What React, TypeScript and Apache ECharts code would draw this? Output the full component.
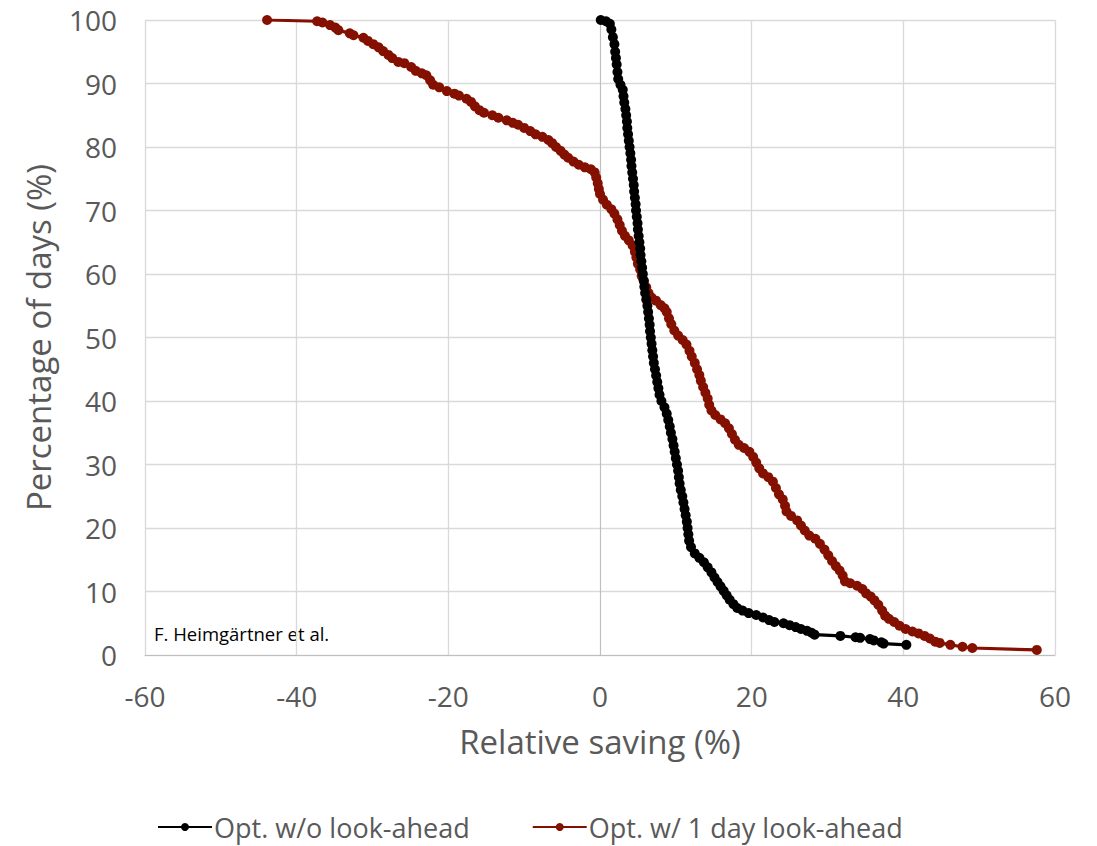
import React, { useEffect, useRef } from "react";
import * as echarts from "echarts";

const xTicks = [-60, -40, -20, 0, 20, 40, 60];
const yTicks = [0, 10, 20, 30, 40, 50, 60, 70, 80, 90, 100];

const seriesNames = ["Opt. w/o look-ahead", "Opt. w/ 1 day look-ahead"];
const seriesColors = ["#000000", "#841000"];

const noLookAhead: [number, number][] = [
  [0.1, 100], [0.8, 99.8], [1.3, 99.4], [1.5, 98.5], [1.7, 97.3], [1.9, 96.2], [2.0, 95], [2.1, 94], [2.2, 93],
  [2.3, 91.8], [2.4, 90.7], [2.7, 89.8], [3.0, 89], [3.1, 88], [3.2, 87], [3.35, 86], [3.45, 85], [3.55, 84],
  [3.6, 83], [3.7, 82], [3.8, 81], [3.9, 80], [4.0, 79], [4.1, 78], [4.15, 77], [4.25, 76], [4.35, 75], [4.45, 74],
  [4.5, 73], [4.6, 72], [4.7, 71], [4.75, 70], [4.85, 69], [4.95, 68], [5.0, 67], [5.1, 66], [5.2, 65], [5.3, 64],
  [5.35, 63], [5.45, 62], [5.55, 61], [5.65, 60], [5.75, 59], [5.85, 58], [5.95, 57], [6.1, 56], [6.25, 55],
  [6.35, 54], [6.45, 53], [6.55, 52], [6.6, 51], [6.7, 50], [6.8, 49], [6.9, 48], [7.0, 47], [7.1, 46], [7.25, 45],
  [7.4, 44], [7.55, 43], [7.7, 42], [7.85, 41], [8.1, 40], [8.5, 39], [8.8, 38], [9.0, 37], [9.2, 36], [9.35, 35],
  [9.55, 34], [9.7, 33], [9.85, 32], [10.0, 31], [10.15, 30], [10.3, 29], [10.4, 28], [10.5, 27], [10.65, 26],
  [10.85, 25], [11.0, 24], [11.15, 23], [11.3, 22], [11.45, 21], [11.55, 20], [11.65, 19], [11.75, 18], [12.0, 17],
  [12.5, 16], [13.1, 15.3], [13.7, 14.6], [14.2, 13.8], [14.7, 13], [15.1, 12.2], [15.5, 11.5], [15.9, 10.8],
  [16.3, 10.1], [16.7, 9.4], [17.1, 8.7], [17.6, 8], [18.1, 7.4], [18.8, 7], [19.6, 6.6], [20.6, 6.3], [21.5, 5.9],
  [22.3, 5.5], [23.0, 5.2], [24.2, 5.0], [25.0, 4.7], [25.8, 4.4], [26.5, 4.1], [27.3, 3.8], [27.9, 3.5], [28.3, 3.2],
  [31.7, 3.0], [33.7, 2.8], [34.3, 2.7], [35.6, 2.5], [36.1, 2.3], [37.1, 2.0], [37.4, 1.8], [40.4, 1.6],
];

const oneDayLookAhead: [number, number][] = [
  [-43.9, 100], [-37.3, 99.8], [-36.6, 99.6], [-35.6, 99.2], [-34.9, 98.8], [-34.5, 98.4], [-33.0, 97.9],
  [-32.5, 97.6], [-31.2, 97.2], [-30.6, 96.7], [-29.9, 96.2], [-29.2, 95.7], [-28.6, 95.1], [-27.9, 94.5],
  [-27.4, 94], [-26.6, 93.4], [-25.8, 93.2], [-24.9, 92.6], [-24.3, 92.0], [-23.5, 91.6], [-22.9, 91.3],
  [-22.4, 90.5], [-22.0, 89.8], [-21.2, 89.4], [-20.2, 88.8], [-19.2, 88.4], [-18.6, 88.1], [-17.6, 87.6],
  [-17.0, 87.1], [-16.5, 86.4], [-15.9, 85.8], [-15.3, 85.4], [-14.2, 85.0], [-13.4, 84.6], [-12.3, 84.2],
  [-11.5, 83.8], [-10.8, 83.5], [-10.0, 83.0], [-9.2, 82.5], [-8.5, 82.0], [-7.6, 81.6], [-6.8, 81.1],
  [-6.3, 80.6], [-5.8, 80.0], [-5.2, 79.4], [-4.7, 78.8], [-4.2, 78.3], [-3.5, 77.7], [-2.8, 77.2], [-2.0, 76.8],
  [-1.2, 76.5], [-0.7, 76.0], [-0.5, 75.2], [-0.3, 74.3], [-0.15, 73.4], [0.0, 72.6], [0.4, 71.7], [0.9, 70.9],
  [1.5, 70.2], [1.9, 69.5], [2.3, 68.6], [2.6, 67.7], [2.9, 66.8], [3.3, 66.0], [3.8, 65.3], [4.3, 64.5],
  [4.6, 63.5], [4.8, 62.6], [5.0, 61.6], [5.3, 60.7], [5.5, 59.7], [5.8, 58.8], [6.1, 57.9], [6.4, 57.0],
  [6.8, 56.3], [7.4, 55.8], [8.0, 55.1], [8.5, 54.6], [8.8, 54.0], [9.1, 53.0], [9.4, 52.1], [9.8, 51.1],
  [10.3, 50.3], [10.9, 49.6], [11.4, 48.9], [11.8, 47.9], [12.1, 47.0], [12.5, 46.0], [12.8, 45.0], [13.1, 44.1],
  [13.3, 43.2], [13.6, 42.2], [13.9, 41.3], [14.2, 40.4], [14.4, 39.4], [14.7, 38.5], [15.2, 37.8], [15.9, 37.1],
  [16.5, 36.5], [17.0, 35.7], [17.4, 34.8], [17.8, 33.9], [18.3, 33.1], [19.0, 32.6], [19.7, 32.0], [20.2, 31.2],
  [20.6, 30.3], [21.0, 29.4], [21.5, 28.6], [22.2, 28.0], [22.8, 27.3], [23.2, 26.3], [23.6, 25.3], [24.1, 24.5],
  [24.4, 23.5], [24.6, 22.6], [25.2, 21.9], [26.0, 21.2], [26.5, 20.4], [27.0, 19.6], [27.6, 18.8], [28.4, 18.3],
  [29.0, 17.5], [29.6, 16.6], [30.1, 15.7], [30.6, 14.8], [31.1, 14.0], [31.6, 13.3], [32.0, 12.5], [32.3, 11.6],
  [33.0, 11.3], [33.9, 10.9], [34.6, 10.4], [35.1, 9.7], [35.7, 9.2], [36.2, 8.6], [36.7, 7.9], [37.2, 7.0],
  [37.6, 6.2], [38.1, 5.7], [38.8, 5.2], [39.5, 4.6], [40.3, 4.1], [41.2, 3.7], [42.0, 3.4], [42.8, 3.0],
  [43.5, 2.6], [44.2, 2.1], [44.8, 1.9], [46.2, 1.6], [47.8, 1.3], [49.1, 1.1], [57.6, 0.8],
];

const annotation = "F. Heimgärtner et al.";
const xAxisName = "Relative saving (%)";
const yAxisName = "Percentage of days (%)";

const FONT = "'Open Sans', sans-serif";
const GRAY = "#595959";

export default function App() {
  const ref = useRef<HTMLDivElement>(null);
  useEffect(() => {
    if (!ref.current) return;
    const chart = echarts.init(ref.current, undefined, { renderer: "svg" });
    const allData = [noLookAhead, oneDayLookAhead];
    chart.setOption({
      animation: false,
      backgroundColor: "#ffffff",
      textStyle: { fontFamily: FONT },
      grid: { left: 145, right: 42, top: 20, bottom: 191 },
      legend: {
        top: 813,
        left: 157,
        itemWidth: 54,
        itemHeight: 10,
        itemGap: 62,
        padding: 0,
        textStyle: { color: GRAY, fontSize: 27, lineHeight: 28, fontFamily: FONT, padding: [0, 0, 0, -3] },
        data: seriesNames,
      },
      xAxis: {
        type: "value",
        min: xTicks[0],
        max: xTicks[xTicks.length - 1],
        interval: 20,
        name: xAxisName,
        nameLocation: "middle",
        nameGap: 70,
        nameTextStyle: { color: GRAY, fontSize: 33, fontFamily: FONT },
        axisLine: { show: true, onZero: false, lineStyle: { color: "#bfbfbf", width: 1 } },
        axisTick: { show: false },
        axisLabel: { color: GRAY, fontSize: 28, margin: 27, fontFamily: FONT },
        splitLine: { show: true, lineStyle: { color: "#d9d9d9", width: 1.3 } },
      },
      yAxis: {
        type: "value",
        min: yTicks[0],
        max: yTicks[yTicks.length - 1],
        interval: 10,
        name: yAxisName,
        nameLocation: "middle",
        nameGap: 90,
        nameTextStyle: { color: GRAY, fontSize: 33, fontFamily: FONT },
        axisLine: { show: true, lineStyle: { color: "#bfbfbf", width: 1 } },
        axisTick: { show: false },
        axisLabel: { color: GRAY, fontSize: 28, lineHeight: 28, margin: 28, fontFamily: FONT },
        splitLine: { show: true, lineStyle: { color: "#d9d9d9", width: 1.3 } },
      },
      graphic: [
        {
          type: "text",
          left: 154,
          top: 624,
          style: { text: annotation, fill: "#000000", fontSize: 18.5, fontFamily: FONT },
        },
      ],
      series: seriesNames.map((name, i) => ({
        name,
        type: "line",
        data: allData[i],
        symbol: "circle",
        symbolSize: 10,
        showAllSymbol: true,
        color: seriesColors[i],
        lineStyle: { color: seriesColors[i], width: 3.2 },
        itemStyle: { color: seriesColors[i] },
        z: i === 0 ? 3 : 2,
      })),
    });
    return () => chart.dispose();
  }, []);
  return <div ref={ref} style={{ position: "fixed", left: 0, top: 0, width: 1097, height: 846 }} />;
}
